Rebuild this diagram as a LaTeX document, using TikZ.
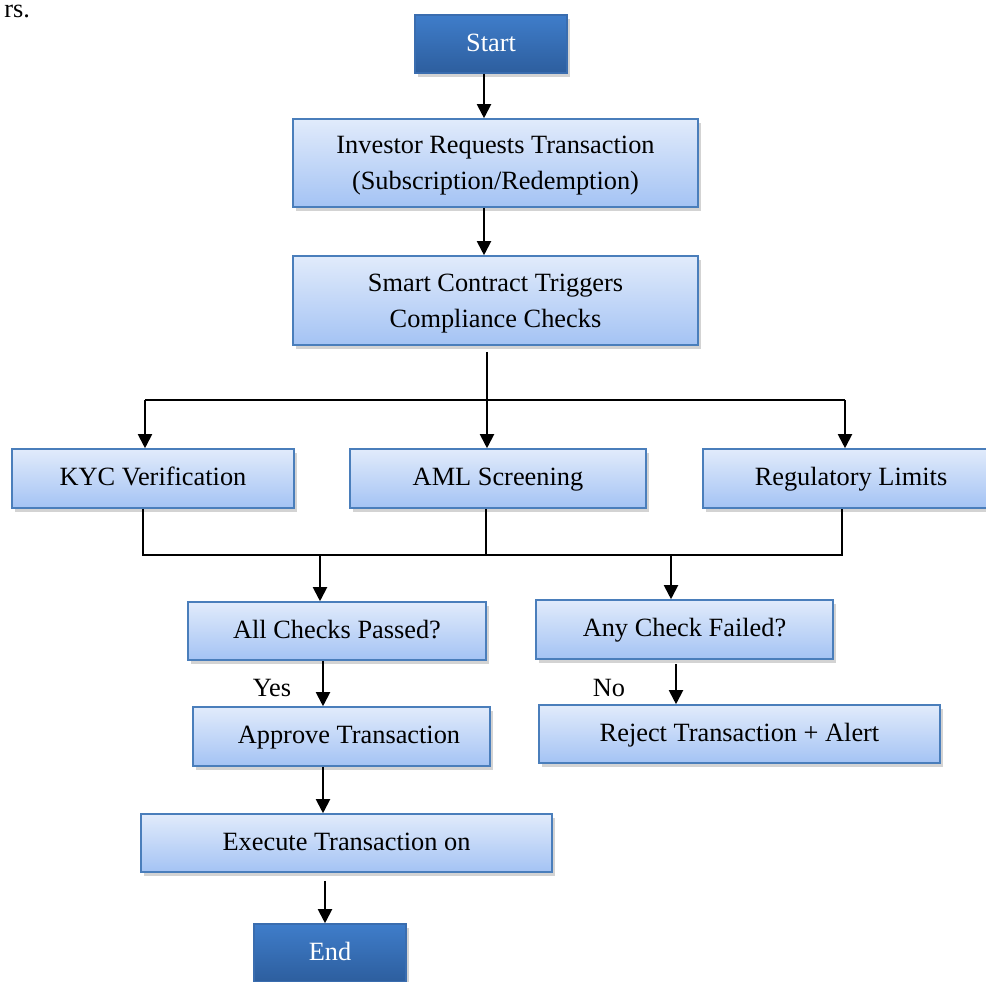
\documentclass[tikz,border=0pt]{standalone}
\usepackage{fontspec}
\setmainfont{Liberation Serif}
\usetikzlibrary{arrows.meta,shadows,calc}
\definecolor{darktop}{HTML}{3F7DCA}
\definecolor{darkbot}{HTML}{2D5E9E}
\definecolor{darkline}{HTML}{3A6DAF}
\definecolor{lighttop}{HTML}{E1EBFB}
\definecolor{lightbot}{HTML}{A4C3F4}
\definecolor{boxline}{HTML}{4A7EBB}

\begin{document}
\begin{tikzpicture}[x=0.02cm,y=-0.02cm,
    box/.style={draw=boxline,line width=0.9pt,top color=lighttop,bottom color=lightbot,
      align=center,inner sep=0pt,font=\fontsize{15}{20.5}\selectfont,
      execute at begin node=\strut,
      drop shadow={opacity=0.35,shadow xshift=1.5pt,shadow yshift=-2.5pt}},
    term/.style={box,draw=darkline,top color=darktop,bottom color=darkbot,text=white},
    lbl/.style={font=\fontsize{15}{20.5}\selectfont},
    ln/.style={line width=1.1pt},
    arr/.style={ln,-{Triangle[width=8pt,length=8pt]}}]
    \useasboundingbox (0,0) rectangle (986,982);
    \node[lbl,anchor=base west,inner sep=0pt] (cut) at (4,18) {rs.};
    % boxes
    \node[term,minimum width=3.04cm,minimum height=1.16cm] (start) at (491,44) {Start};
    \node[box,minimum width=8.1cm,minimum height=1.76cm] (inv) at (495.5,163) {\rule{0pt}{16pt}Investor Requests Transaction\\(Subscription/Redemption)};
    \node[box,minimum width=8.1cm,minimum height=1.78cm] (smart) at (495.5,300.5) {\rule{0pt}{16pt}Smart Contract Triggers\\Compliance Checks};
    \node[box,minimum width=5.64cm,minimum height=1.18cm] (kyc) at (153,478.5) {KYC Verification};
    \node[box,minimum width=5.92cm,minimum height=1.18cm] (aml) at (498,478.5) {AML Screening};
    \node[box,minimum width=5.92cm,minimum height=1.18cm] (reg) at (851,478.5) {Regulatory Limits};
    \node[box,minimum width=5.96cm,minimum height=1.16cm] (all) at (337,631) {All Checks Passed?};
    \node[box,minimum width=5.94cm,minimum height=1.18cm] (any) at (684.5,629.5) {Any Check Failed?};
    \node[box,minimum width=5.94cm,minimum height=1.18cm] (appr) at (341.5,736.5) {\hspace{0.3cm}Approve Transaction};
    \node[box,minimum width=8.02cm,minimum height=1.16cm] (rej) at (739.5,734) {Reject Transaction + Alert};
    \node[box,minimum width=8.22cm,minimum height=1.16cm] (exe) at (346.5,843) {Execute Transaction on};
    \node[term,minimum width=3.04cm,minimum height=1.16cm] (end) at (330,953) {End};
    \node[lbl] (yes) at (272,688) {Yes};
    \node[lbl] (no) at (609,688) {No};
    % connectors
    \coordinate (c1) at (484,0);
    \coordinate (split) at (487,400);
    \coordinate (join) at (486,555);
    \draw[arr] (c1 |- start.south) -- (c1 |- inv.north);
    \draw[arr] (c1 |- inv.south) -- (c1 |- smart.north);
    \draw[ln] ($(smart.south)+(-8.5,6)$) -- (split);
    \draw[ln] (145,400) -- (845,400);
    \draw[arr] (145,400) -- (145,0 |- kyc.north);
    \draw[arr] (split) -- (split |- aml.north);
    \draw[arr] (845,400) -- (845,0 |- reg.north);
    \draw[ln] (143,0 |- kyc.south) |- (join) -| (842,0 |- reg.south);
    \draw[ln] (join |- aml.south) -- (join);
    \draw[arr] (320,555) -- (320,0 |- all.north);
    \draw[arr] (671,555) -- (671,0 |- any.north);
    \draw[arr] (323,0 |- all.south) -- (323,0 |- appr.north);
    \draw[arr] ($(676,0 |- any.south)+(0,4)$) -- (676,0 |- rej.north);
    \draw[arr] (323,0 |- appr.south) -- (323,0 |- exe.north);
    \draw[arr] ($(325,0 |- exe.south)+(0,8)$) -- (325,0 |- end.north);
\end{tikzpicture}
\end{document}
